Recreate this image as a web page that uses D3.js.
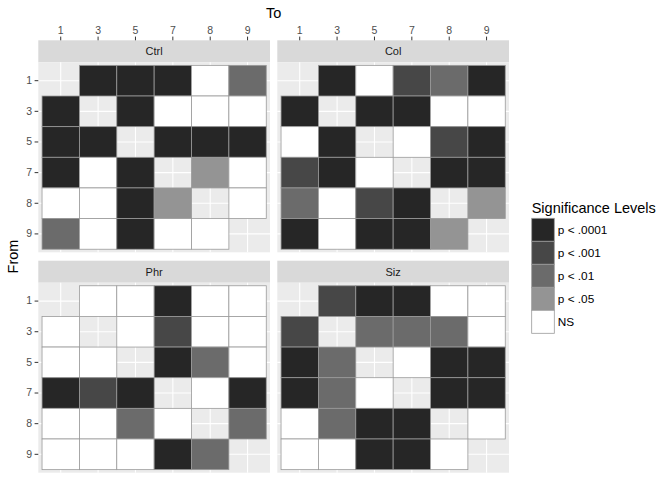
<!DOCTYPE html>
<html>
<head>
<meta charset="utf-8">
<script src="https://cdn.jsdelivr.net/npm/d3@7"></script>
<style>
  html, body { margin: 0; padding: 0; background: #fff; }
  svg { display: block; font-family: "Liberation Sans", Arial, Helvetica, sans-serif; }
</style>
</head>
<body>
<div id="chart"></div>
<script>
// ---------------- data ----------------
const fromLevels = ["1", "3", "5", "7", "8", "9"];
const toLevels = ["1", "3", "5", "7", "8", "9"];
const panels = ["Ctrl", "Col", "Phr", "Siz"];
const sigLevels = ["p < .0001", "p < .001", "p < .01", "p < .05", "NS"];
const sigColors = ["#262626", "#474747", "#6B6B6B", "#949494", "#FFFFFF"];

// index into sigLevels, null = diagonal (no tile); rows = From, columns = To
const ctrlSig = [
  [null, 0, 0, 0, 4, 2],
  [0, null, 0, 4, 4, 4],
  [0, 0, null, 0, 0, 0],
  [0, 4, 0, null, 3, 4],
  [4, 4, 0, 3, null, 4],
  [2, 4, 0, 4, 4, null]
];
const colSig = [
  [null, 0, 4, 1, 2, 0],
  [0, null, 0, 0, 4, 4],
  [4, 0, null, 4, 1, 0],
  [1, 0, 4, null, 0, 0],
  [2, 4, 1, 0, null, 3],
  [0, 4, 0, 0, 3, null]
];
const phrSig = [
  [null, 4, 4, 0, 4, 4],
  [4, null, 4, 1, 4, 4],
  [4, 4, null, 0, 2, 4],
  [0, 1, 0, null, 4, 0],
  [4, 4, 2, 4, null, 2],
  [4, 4, 4, 0, 2, null]
];
const sizSig = [
  [null, 1, 0, 0, 4, 4],
  [1, null, 2, 2, 2, 4],
  [0, 2, null, 4, 0, 0],
  [0, 2, 4, null, 0, 0],
  [4, 2, 0, 0, null, 4],
  [4, 4, 0, 0, 4, null]
];
const panelData = [ctrlSig, colSig, phrSig, sizSig];

// ---------------- layout ----------------
const W = 672, H = 480;
const svg = d3.select("#chart").append("svg").attr("width", W).attr("height", H);

const panelW = 231.7, panelH = 190, stripH = 22;
const panelX = [38.3, 277.3];
const stripY = [40.3, 260.7];

const fill = d3.scaleOrdinal().domain(sigLevels).range(sigColors);

const x = d3.scaleBand().domain(toLevels).range([0, panelW]).paddingInner(0).paddingOuter(0.1);
const y = d3.scaleBand().domain(fromLevels).range([0, panelH]).paddingInner(0).paddingOuter(0.1);

panels.forEach((name, i) => {
  const col = i % 2, row = Math.floor(i / 2);
  const px = panelX[col], sy = stripY[row], py = sy + stripH;

  // strip
  svg.append("rect").attr("x", px).attr("y", sy).attr("width", panelW).attr("height", stripH)
    .attr("fill", "#D9D9D9");
  svg.append("text").attr("x", px + panelW / 2).attr("y", sy + stripH / 2).attr("dy", "0.35em")
    .attr("text-anchor", "middle").attr("font-size", 11).attr("fill", "#1A1A1A").text(name);

  const g = svg.append("g").attr("transform", `translate(${px},${py})`);
  g.append("rect").attr("width", panelW).attr("height", panelH).attr("fill", "#EBEBEB");

  // grid
  g.selectAll(".vg").data(toLevels).enter().append("line")
    .attr("x1", d => x(d) + x.bandwidth() / 2).attr("x2", d => x(d) + x.bandwidth() / 2)
    .attr("y1", 0).attr("y2", panelH).attr("stroke", "#fff").attr("stroke-width", 1.1);
  g.selectAll(".hg").data(fromLevels).enter().append("line")
    .attr("y1", d => y(d) + y.bandwidth() / 2).attr("y2", d => y(d) + y.bandwidth() / 2)
    .attr("x1", 0).attr("x2", panelW).attr("stroke", "#fff").attr("stroke-width", 1.1);

  // tiles
  const cells = [];
  panelData[i].forEach((r, ri) => r.forEach((v, ci) => {
    if (v !== null) cells.push({ from: fromLevels[ri], to: toLevels[ci], sig: sigLevels[v] });
  }));
  g.selectAll(".tile").data(cells).enter().append("rect")
    .attr("x", d => x(d.to)).attr("y", d => y(d.from))
    .attr("width", x.bandwidth()).attr("height", y.bandwidth())
    .attr("fill", d => fill(d.sig)).attr("stroke", "#9A9A9A").attr("stroke-width", 0.8);

  // left axis (only left column)
  if (col === 0) {
    const ya = svg.append("g").attr("transform", `translate(${px},${py})`)
      .call(d3.axisLeft(y).tickSize(3.7).tickPadding(2.5));
    ya.select(".domain").remove();
    ya.selectAll("line").attr("stroke", "#333").attr("stroke-width", 1);
    ya.selectAll("text").attr("font-size", 10.5).attr("fill", "#4D4D4D")
      .attr("font-family", "Liberation Sans, Arial, sans-serif");
  }
  // top axis (only top row)
  if (row === 0) {
    const xa = svg.append("g").attr("transform", `translate(${px},${sy})`)
      .call(d3.axisTop(x).tickSize(3.7).tickPadding(2.5));
    xa.select(".domain").remove();
    xa.selectAll("line").attr("stroke", "#333").attr("stroke-width", 1);
    xa.selectAll("text").attr("font-size", 10.5).attr("fill", "#4D4D4D")
      .attr("font-family", "Liberation Sans, Arial, sans-serif");
  }
});

// axis titles
svg.append("text").attr("x", (panelX[0] + panelX[1] + panelW) / 2).attr("y", 18)
  .attr("text-anchor", "middle").attr("font-size", 14.5).attr("fill", "#000").text("To");
svg.append("text").attr("transform", `translate(18,${(stripY[0] + stripY[1] + stripH + panelH) / 2}) rotate(-90)`)
  .attr("text-anchor", "middle").attr("font-size", 14.5).attr("fill", "#000").text("From");

// legend
const lg = svg.append("g").attr("transform", "translate(531.7,0)");
lg.append("text").attr("x", 0).attr("y", 212.5).attr("font-size", 14.5).attr("fill", "#000")
  .text("Significance Levels");
const keyH = 23, keyW = 22.6, key0 = 218.3;
lg.selectAll(".key").data(sigLevels).enter().append("rect")
  .attr("x", 0).attr("y", (d, k) => key0 + k * keyH)
  .attr("width", keyW).attr("height", keyH)
  .attr("fill", d => fill(d)).attr("stroke", "#9A9A9A").attr("stroke-width", 0.8);
lg.selectAll(".lab").data(sigLevels).enter().append("text")
  .attr("x", keyW + 3.5).attr("y", (d, k) => key0 + k * keyH + keyH / 2).attr("dy", "0.35em")
  .attr("font-size", 11.8).attr("fill", "#000").text(d => d);
</script>
</body>
</html>
